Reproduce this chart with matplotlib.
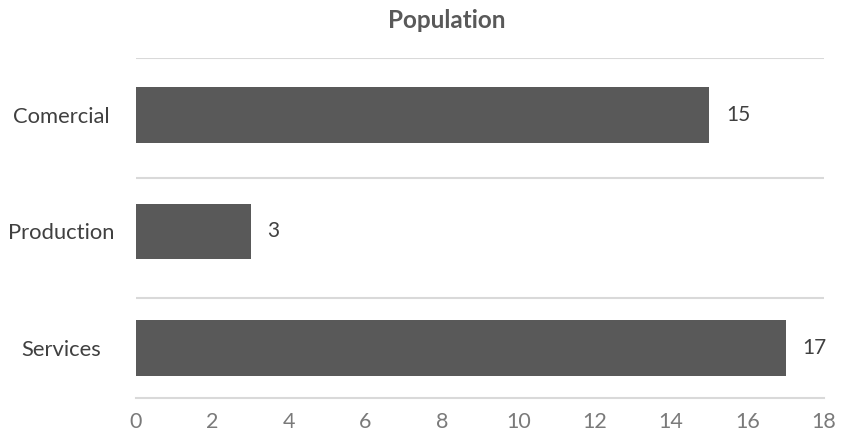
import matplotlib
matplotlib.use("Agg")
import matplotlib.pyplot as plt
from matplotlib.ticker import FixedLocator

categories = ["Services", "Production", "Comercial"]
values = [17, 3, 15]
xticks = [0, 2, 4, 6, 8, 10, 12, 14, 16, 18]
title = "Population"

plt.rcParams['font.family'] = ['Lato', 'DejaVu Sans']

fig = plt.figure(figsize=(8.42, 4.33), dpi=100)
ax = fig.add_axes([136/842, 35/433, (824-136)/842, (398-58)/433])

ypos = list(range(len(categories)))
bars = ax.barh(ypos, values, height=0.48, color="#595959", zorder=3)

ax.set_xlim(0, 18)
ax.set_ylim(-0.43, 2.49)
ax.set_xticks(xticks)
ax.set_xticklabels([str(t) for t in xticks], fontsize=15.5, color="#7a7a7a")
ax.tick_params(axis='x', length=0, pad=10)

ax.set_yticks(ypos)
ax.set_yticklabels(categories, fontsize=15.8, color="#404040")
for lab in ax.get_yticklabels():
    lab.set_horizontalalignment('center')
ax.tick_params(axis='y', length=0, pad=54)

ax.yaxis.set_minor_locator(FixedLocator([0.43, 1.46, 2.49]))
ax.tick_params(axis='y', which='minor', length=0)
ax.grid(True, axis='y', which='minor', color="#d9d9d9", linewidth=1.5, zorder=0)
ax.grid(False, axis='y', which='major')
ax.grid(False, axis='x')

for s in ['top', 'right', 'left']:
    ax.spines[s].set_visible(False)
ax.spines['bottom'].set_color("#d9d9d9")
ax.spines['bottom'].set_linewidth(1.5)

for b, v in zip(bars, values):
    ax.annotate(str(v), xy=(b.get_width(), b.get_y() + b.get_height()/2),
                xytext=(12, 0), textcoords='offset points',
                ha='left', va='center', fontsize=15, color="#404040")

fig.text(447/842, 1 - 21/433, title, ha='center', va='center',
         fontsize=17.5, fontweight='bold', color="#595959")

fig.savefig("out.png", dpi=100)
